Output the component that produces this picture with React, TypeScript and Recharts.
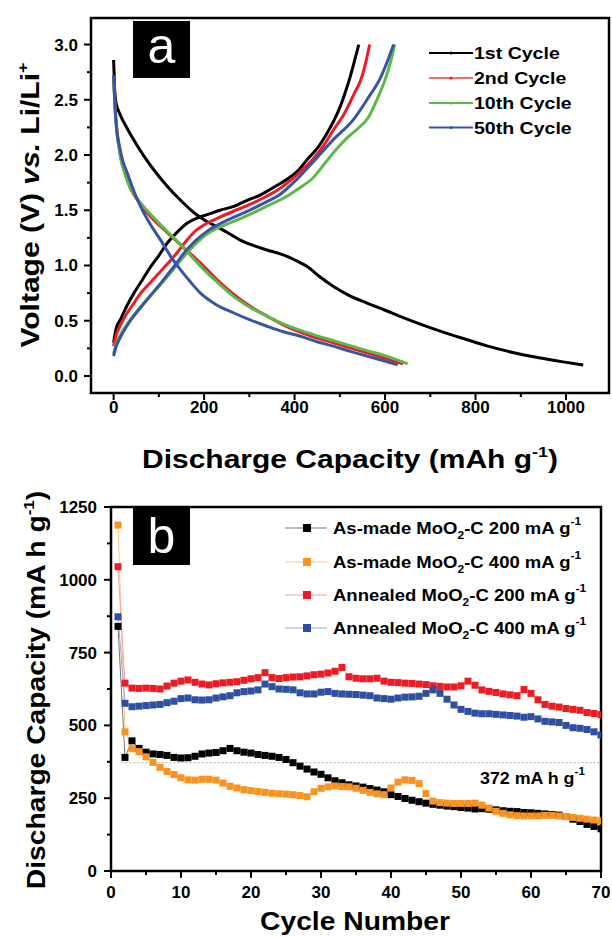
import React from 'react';
import { LineChart, Line, XAxis, YAxis, ReferenceArea, ReferenceLine } from 'recharts';

const FONT = '"Liberation Sans", Arial, Helvetica, sans-serif';

// ---------------- Panel (a): [capacity (mAh/g), voltage (V)] ----------------
const cycle1Discharge = [
  [0, 2.86], [2, 2.62], [5, 2.48], [15, 2.36], [30, 2.24], [50, 2.1], [67, 1.99], [90, 1.86],
  [118, 1.72], [148, 1.59], [177, 1.48], [205, 1.4], [229, 1.35], [255, 1.29], [280, 1.23],
  [310, 1.18], [339, 1.14], [365, 1.11], [391, 1.07], [410, 1.03], [428, 0.99], [455, 0.9],
  [486, 0.81], [520, 0.73], [560, 0.66], [600, 0.595], [633, 0.54], [681, 0.465], [730, 0.395],
  [780, 0.33], [827, 0.27], [880, 0.215], [940, 0.165], [990, 0.13], [1038, 0.1],
];
const cycle1Charge = [
  [0, 0.3], [5, 0.42], [15, 0.51], [30, 0.64], [45, 0.75], [65, 0.88], [82, 0.99], [100, 1.09],
  [118, 1.2], [140, 1.3], [163, 1.385], [185, 1.43], [207, 1.46], [235, 1.5], [266, 1.535],
  [295, 1.59], [325, 1.64], [355, 1.71], [383, 1.78], [408, 1.86], [428, 1.96], [450, 2.06],
  [472, 2.2], [488, 2.32], [501, 2.44], [513, 2.58], [523, 2.71], [533, 2.86], [542, 3.0],
];
const cycle2Discharge = [
  [0, 2.72], [3, 2.45], [8, 2.2], [15, 2.0], [25, 1.84], [37, 1.7], [55, 1.58], [80, 1.45],
  [118, 1.3], [150, 1.18], [177, 1.08], [205, 0.97], [229, 0.87], [265, 0.74], [302, 0.63],
  [340, 0.54], [376, 0.46], [430, 0.37], [486, 0.3], [560, 0.21], [600, 0.16], [640, 0.11],
];
const cycle2Charge = [
  [0, 0.27], [5, 0.36], [15, 0.46], [30, 0.57], [45, 0.66], [60, 0.75], [80, 0.84], [100, 0.93],
  [120, 1.02], [137, 1.1], [160, 1.22], [180, 1.31], [205, 1.38], [236, 1.44], [270, 1.5],
  [300, 1.55], [335, 1.62], [365, 1.69], [405, 1.82], [440, 1.96], [465, 2.09], [488, 2.24],
  [508, 2.36], [530, 2.54], [549, 2.71], [558, 2.85], [566, 3.0],
];
const cycle10Discharge = [
  [0, 2.7], [3, 2.42], [8, 2.18], [15, 1.98], [25, 1.83], [37, 1.7], [55, 1.59], [80, 1.47],
  [118, 1.31], [150, 1.18], [177, 1.06], [205, 0.94], [229, 0.85], [265, 0.72], [302, 0.62],
  [340, 0.54], [376, 0.47], [430, 0.39], [486, 0.32], [560, 0.23], [610, 0.17], [650, 0.11],
];
const cycle10Charge = [
  [0, 0.2], [5, 0.28], [15, 0.37], [30, 0.47], [50, 0.58], [75, 0.7], [100, 0.81], [125, 0.93],
  [155, 1.08], [180, 1.19], [205, 1.28], [230, 1.34], [260, 1.39], [300, 1.46], [340, 1.54],
  [380, 1.62], [410, 1.7], [440, 1.79], [468, 1.93], [490, 2.04], [515, 2.15], [540, 2.24],
  [563, 2.34], [582, 2.5], [600, 2.68], [612, 2.84], [621, 3.0],
];
const cycle50Discharge = [
  [0, 2.72], [3, 2.45], [7, 2.22], [12, 2.1], [20, 1.95], [30, 1.84], [45, 1.67], [60, 1.53],
  [80, 1.38], [104, 1.23], [125, 1.09], [148, 0.96], [170, 0.85], [192, 0.75], [225, 0.65],
  [266, 0.57], [300, 0.51], [339, 0.45], [375, 0.4], [413, 0.36], [450, 0.31], [486, 0.27],
  [525, 0.22], [560, 0.18], [595, 0.14], [628, 0.1],
];
const cycle50Charge = [
  [0, 0.18], [5, 0.26], [15, 0.35], [37, 0.5], [60, 0.62], [82, 0.73], [110, 0.87], [135, 1.0],
  [155, 1.11], [180, 1.22], [210, 1.32], [251, 1.41], [290, 1.48], [330, 1.56], [370, 1.65],
  [405, 1.78], [446, 1.96], [486, 2.14], [530, 2.32], [560, 2.5], [590, 2.7], [619, 3.0],
];

const cycleLabels = ['1st Cycle', '2nd Cycle', '10th Cycle', '50th Cycle'];
const cycleColors = ['#000000', '#ec1c24', '#5cb848', '#3a54a5'];
const cycleLegendColors = ['#000000', '#f26d6d', '#5cb848', '#3a54a5'];

const aXTicks = [0, 100, 200, 300, 400, 500, 600, 700, 800, 900, 1000];
const aYTicks = [0, 0.25, 0.5, 0.75, 1, 1.25, 1.5, 1.75, 2, 2.25, 2.5, 2.75, 3];

// ---------------- Panel (b): discharge capacity vs cycle ----------------
const cycleNumbers = [
  1, 2, 3, 4, 5, 6, 7, 8, 9, 10, 11, 12, 13, 14, 15, 16, 17, 18, 19, 20, 21, 22, 23, 24, 25,
  26, 27, 28, 29, 30, 31, 32, 33, 34, 35, 36, 37, 38, 39, 40, 41, 42, 43, 44, 45, 46, 47, 48,
  49, 50, 51, 52, 53, 54, 55, 56, 57, 58, 59, 60, 61, 62, 63, 64, 65, 66, 67, 68, 69, 70,
];
const asMade200 = [
  840, 390, 447, 421, 408, 402, 400, 397, 390, 388, 389, 394, 402, 405, 407, 413, 421, 413, 408, 405,
  400, 397, 394, 390, 383, 372, 360, 350, 340, 332, 320, 310, 303, 296, 292, 288, 283, 278, 272, 262,
  256, 249, 243, 238, 233, 229, 226, 223, 221, 218, 216, 213, 214, 212, 210, 207, 205, 204, 201, 200,
  198, 196, 194, 192, 187, 178, 170, 160, 153, 145,
];
const asMade400 = [
  1188, 478, 420, 410, 392, 373, 356, 342, 331, 320, 313, 312, 315, 315, 312, 302, 291, 285, 279, 276,
  273, 270, 267, 265, 264, 262, 259, 255, 272, 284, 289, 292, 290, 289, 284, 277, 270, 265, 262, 285,
  305, 313, 311, 300, 266, 240, 235, 233, 232, 232, 232, 233, 226, 216, 205, 198, 193, 190, 189, 189,
  189, 191, 191, 189, 187, 184, 181, 178, 175, 172,
];
const annealed200 = [
  1045, 645, 628, 627, 628, 627, 625, 635, 645, 652, 656, 648, 642, 639, 643, 646, 648, 650, 655, 660,
  664, 681, 664, 661, 664, 666, 667, 670, 674, 676, 680, 686, 699, 667, 662, 660, 660, 662, 652, 648,
  647, 645, 644, 642, 640, 636, 634, 632, 632, 636, 652, 638, 622, 617, 613, 608, 605, 602, 623, 610,
  588, 572, 566, 563, 558, 555, 552, 544, 541, 537,
];
const annealed400 = [
  873, 576, 564, 566, 568, 570, 572, 578, 583, 592, 594, 588, 587, 588, 594, 598, 602, 612, 616, 618,
  622, 642, 633, 625, 624, 622, 612, 608, 608, 614, 616, 610, 608, 607, 606, 604, 602, 594, 592, 590,
  594, 597, 598, 600, 610, 622, 610, 590, 570, 555, 548, 542, 540, 540, 538, 536, 534, 532, 528, 530,
  522, 514, 512, 510, 500, 492, 490, 486, 478, 467,
];
const seriesKeys = ['asMade200', 'asMade400', 'annealed200', 'annealed400'];
const seriesNames = ['As-made MoO', 'As-made MoO', 'Annealed MoO', 'Annealed MoO'];
const seriesRates = ['200', '400', '200', '400'];
const markerColors = ['#000000', '#f7931e', '#ed1c24', '#2f4fa2'];
const lineColors = ['#777777', '#fbc689', '#f7a0a0', '#9aa8d6'];

const bXTicks = [0, 5, 10, 15, 20, 25, 30, 35, 40, 45, 50, 55, 60, 65, 70];
const bYTicks = [0, 125, 250, 375, 500, 625, 750, 875, 1000, 1125, 1250];
const referenceCapacity = 372;

const bData = cycleNumbers.map((n, i) => ({
  n,
  asMade200: asMade200[i],
  asMade400: asMade400[i],
  annealed200: annealed200[i],
  annealed400: annealed400[i],
}));

const toPts = (arr: number[][]) => arr.map(([c, v]) => ({ c, v }));

const isMajor = (v: number, step: number) => Math.abs(v / step - Math.round(v / step)) < 1e-6;

const makeXTick = (step: number, fmt: (v: number) => string, dy: number) => (props: any) => {
  const { x, y, payload } = props;
  const v = payload.value;
  const major = isMajor(v, step);
  return (
    <g>
      <line x1={x} x2={x} y1={y} y2={y + (major ? 7 : 4)} stroke="#000" strokeWidth={2} />
      {major ? (
        <text x={x} y={y + dy} textAnchor="middle" fontSize={17} fontWeight="bold" fontFamily={FONT} fill="#000">
          {fmt(v)}
        </text>
      ) : null}
    </g>
  );
};

const makeYTick = (step: number, fmt: (v: number) => string, dx: number) => (props: any) => {
  const { x, y, payload } = props;
  const v = payload.value;
  const major = isMajor(v, step);
  return (
    <g>
      <line x1={x} x2={x - (major ? 7 : 4)} y1={y} y2={y} stroke="#000" strokeWidth={2} />
      {major ? (
        <text x={x - dx} y={y + 6} textAnchor="end" fontSize={17} fontWeight="bold" fontFamily={FONT} fill="#000">
          {fmt(v)}
        </text>
      ) : null}
    </g>
  );
};

const squareDot = (color: string) => (props: any) => {
  const { cx, cy, index } = props;
  if (cx == null || cy == null) return <g key={index} />;
  return <rect key={index} x={cx - 3.5} y={cy - 3.5} width={7} height={7} fill={color} />;
};

const STxt = ({ x, y, sx = 1, rot = 0, size, anchor = 'start', weight = 'bold', fill = '#000', children }: any) => (
  <text
    transform={`translate(${x},${y}) rotate(${rot}) scale(${sx},1)`}
    textAnchor={anchor}
    fontSize={size}
    fontWeight={weight}
    fontFamily={FONT}
    fill={fill}
  >
    {children}
  </text>
);

const aSeries = [
  [cycle1Discharge, cycle1Charge],
  [cycle2Discharge, cycle2Charge],
  [cycle10Discharge, cycle10Charge],
  [cycle50Discharge, cycle50Charge],
];

const A_X_MIN = -50;
const A_X_MAX = 1095;
const A_Y_MIN = -0.154;
const A_Y_MAX = 3.24;

export default function App() {
  const aLegendY = [53, 78, 103, 127.5];
  const bLegendY = [528, 562, 595, 628];
  return (
    <div style={{ position: 'absolute', left: 0, top: 0, width: 612, height: 937, background: '#fff', overflow: 'hidden' }}>
      <div style={{ position: 'absolute', left: 0, top: 0 }}>
        <LineChart width={612} height={480} margin={{ top: 18, right: 3, left: 0, bottom: 0 }}>
          <XAxis
            dataKey="c"
            type="number"
            domain={[A_X_MIN, A_X_MAX]}
            allowDataOverflow
            ticks={aXTicks}
            interval={0}
            height={87}
            axisLine={false}
            tickLine={false}
            tickSize={0}
            tickMargin={0}
            tick={makeXTick(200, (v) => String(v), 20)}
          />
          <YAxis
            type="number"
            domain={[A_Y_MIN, A_Y_MAX]}
            allowDataOverflow
            ticks={aYTicks}
            interval={0}
            width={91}
            axisLine={false}
            tickLine={false}
            tickSize={0}
            tickMargin={0}
            tick={makeYTick(0.5, (v) => v.toFixed(1), 13)}
          />
          <ReferenceArea x1={A_X_MIN} x2={A_X_MAX} y1={A_Y_MIN} y2={A_Y_MAX} fill="none" stroke="#000" strokeWidth={2.5} ifOverflow="visible" />
          {aSeries.map((pair, i) =>
            pair.map((arr, j) => (
              <Line
                key={`a-${i}-${j}`}
                data={toPts(arr)}
                dataKey="v"
                type="monotone"
                stroke={cycleColors[i]}
                strokeWidth={3}
                dot={false}
                isAnimationActive={false}
                name={cycleLabels[i]}
              />
            ))
          )}
        </LineChart>
      </div>
      <div style={{ position: 'absolute', left: 0, top: 480 }}>
        <LineChart width={612} height={457} data={bData} margin={{ top: 27, right: 11, left: 0, bottom: 0 }}>
          <XAxis
            dataKey="n"
            type="number"
            domain={[0, 70]}
            allowDataOverflow
            ticks={bXTicks}
            interval={0}
            height={66}
            axisLine={false}
            tickLine={false}
            tickSize={0}
            tickMargin={0}
            tick={makeXTick(10, (v) => String(v), 26.5)}
          />
          <YAxis
            type="number"
            domain={[0, 1250]}
            allowDataOverflow
            ticks={bYTicks}
            interval={0}
            width={111}
            axisLine={false}
            tickLine={false}
            tickSize={0}
            tickMargin={0}
            tick={makeYTick(250, (v) => String(v), 14)}
          />
          <ReferenceArea x1={0} x2={70} y1={0} y2={1250} fill="none" stroke="#000" strokeWidth={2.5} ifOverflow="visible" />
          <ReferenceLine
            segment={[{ x: 1.5, y: referenceCapacity }, { x: 70, y: referenceCapacity }]}
            stroke="#b0b0b0"
            strokeWidth={1}
            strokeDasharray="2 2"
          />
          {seriesKeys.map((k, i) => (
            <Line
              key={k}
              dataKey={k}
              type="linear"
              stroke={lineColors[i]}
              strokeWidth={1}
              dot={squareDot(markerColors[i])}
              isAnimationActive={false}
              name={`${seriesNames[i]}2-C ${seriesRates[i]} mA g-1`}
            />
          ))}
        </LineChart>
      </div>
      <svg width={612} height={937} style={{ position: 'absolute', left: 0, top: 0, pointerEvents: 'none' }}>
        {/* panel labels */}
        <rect x={133} y={21} width={57} height={57} fill="#000" />
        <text x={161.5} y={63} textAnchor="middle" fontSize={50} fontFamily={FONT} fill="#fff">a</text>
        <rect x={133} y={508} width={57} height={57} fill="#000" />
        <text x={161.5} y={553} textAnchor="middle" fontSize={50} fontFamily={FONT} fill="#fff">b</text>

        {/* legend a */}
        {cycleLabels.map((lab, i) => (
          <g key={lab}>
            <line x1={429} x2={473} y1={aLegendY[i]} y2={aLegendY[i]} stroke={cycleLegendColors[i]} strokeWidth={2.2} />
            <circle cx={451} cy={aLegendY[i]} r={1.6} fill={cycleColors[i]} />
            <STxt x={474} y={aLegendY[i] + 6} size={17} sx={1.15}>{lab}</STxt>
          </g>
        ))}

        {/* legend b */}
        {seriesKeys.map((k, i) => (
          <g key={k}>
            <line x1={285} x2={327} y1={bLegendY[i]} y2={bLegendY[i]} stroke={lineColors[i]} strokeWidth={1.2} />
            <rect x={303} y={bLegendY[i] - 4} width={8} height={8} fill={markerColors[i]} />
            <STxt x={333} y={bLegendY[i] + 6} size={17} sx={1.09}>
              {seriesNames[i]}
              <tspan dy={5} fontSize={11}>2</tspan>
              <tspan dy={-5}>{`-C ${seriesRates[i]} mA g`}</tspan>
              <tspan dy={-9} fontSize={11}>-1</tspan>
            </STxt>
          </g>
        ))}

        {/* reference label */}
        <STxt x={480} y={784} size={17} sx={1.05}>
          {`${referenceCapacity} mA h g`}
          <tspan dy={-9} fontSize={11}>-1</tspan>
        </STxt>

        {/* axis titles */}
        <STxt x={350} y={468} size={25} sx={1.2} anchor="middle">
          Discharge Capacity (mAh g
          <tspan dy={-11} fontSize={15}>-1</tspan>
          <tspan dy={11}>)</tspan>
        </STxt>
        <STxt x={39} y={205} size={25} sx={1.2} rot={-90} anchor="middle">
          {'Voltage (V) '}
          <tspan fontStyle="italic">vs.</tspan>
          {' Li/Li'}
          <tspan dy={-11} fontSize={15}>+</tspan>
        </STxt>
        <STxt x={355} y={930} size={25} sx={1.13} anchor="middle">Cycle Number</STxt>
        <STxt x={45} y={690} size={25} sx={1.13} rot={-90} anchor="middle">
          Discharge Capacity (mA h g
          <tspan dy={-11} fontSize={15}>-1</tspan>
          <tspan dy={11}>)</tspan>
        </STxt>
      </svg>
    </div>
  );
}
